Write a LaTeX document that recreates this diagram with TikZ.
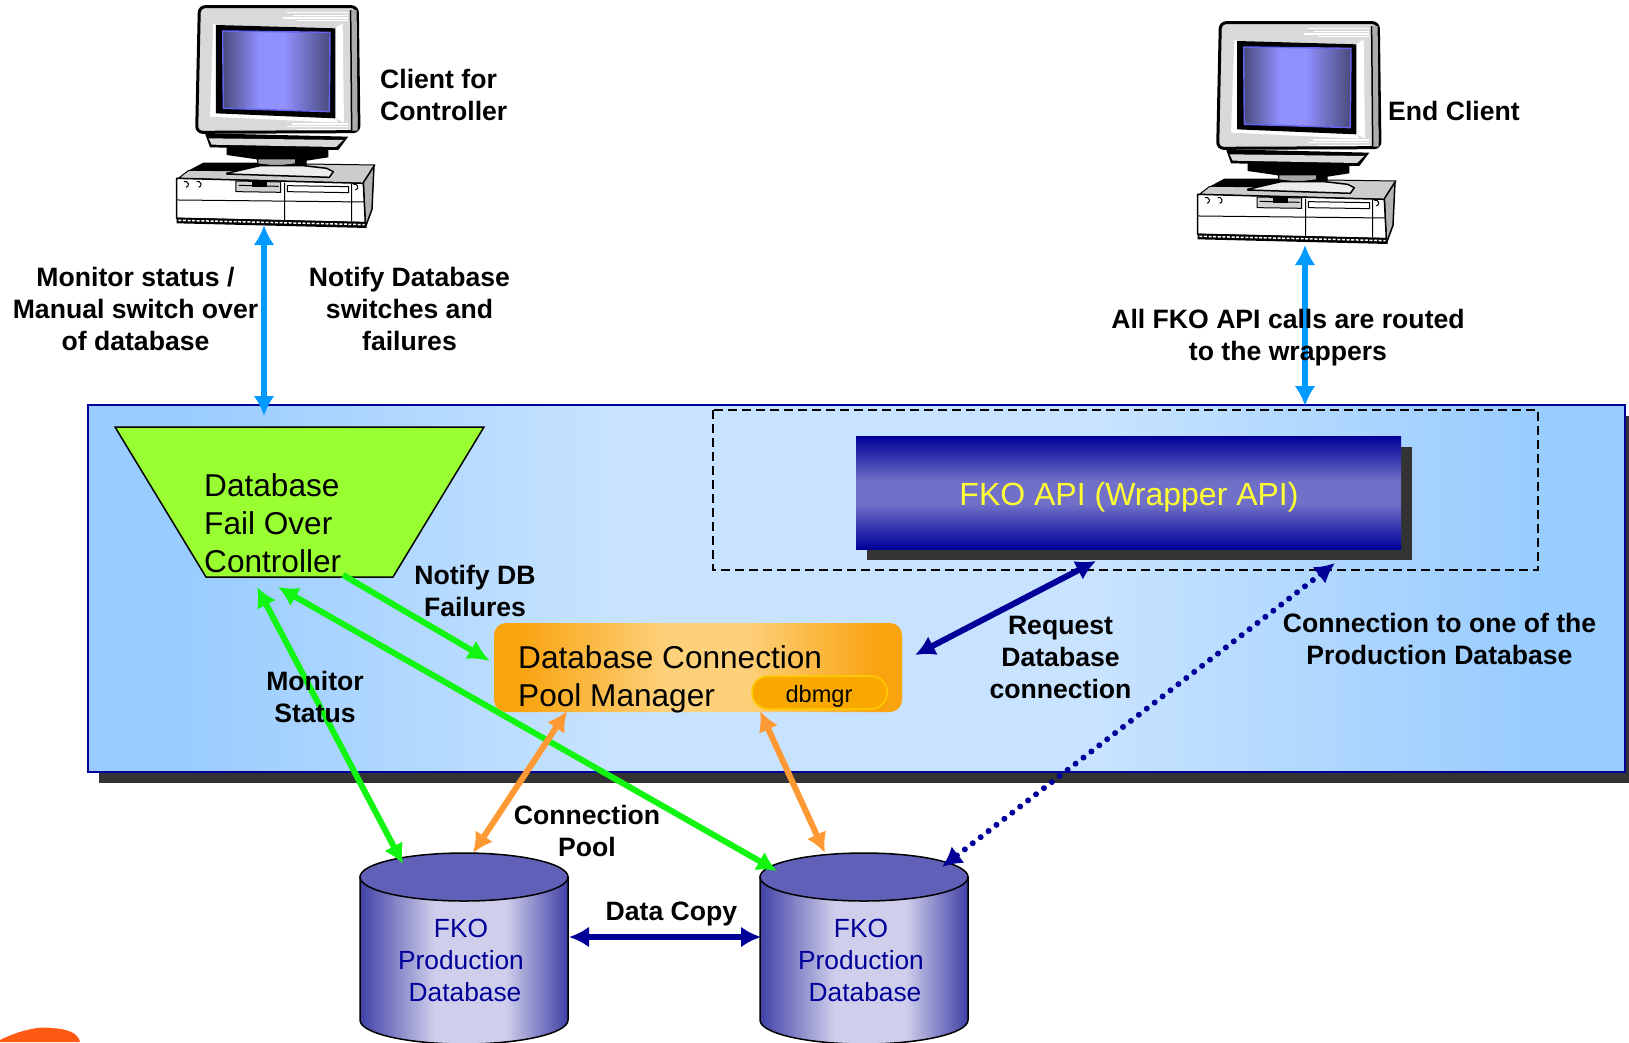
\documentclass[tikz,border=0pt]{standalone}
\usepackage{fontspec}
\setmainfont{Liberation Sans}
\usetikzlibrary{arrows.meta}
\definecolor{navy}{HTML}{000099}
\definecolor{skyarrow}{HTML}{0099FF}
\definecolor{greenarrow}{HTML}{11F511}
\definecolor{orangearrow}{HTML}{FF9933}
\definecolor{cylL}{HTML}{4040A6}
\definecolor{cylM}{HTML}{CFCFEC}
\definecolor{cylT}{HTML}{6060B8}
\definecolor{scrD}{HTML}{4A4A7C}
\definecolor{scrL}{HTML}{9090FF}
\definecolor{scrB}{HTML}{6464F0}
\definecolor{blobc}{HTML}{FF5A14}
\definecolor{panE}{HTML}{99CCFF}
\definecolor{panM}{HTML}{C7E3FF}
\definecolor{apiM}{HTML}{7070C8}
\definecolor{apiT}{HTML}{FFFF33}
\definecolor{trapc}{HTML}{99FF33}
\definecolor{poolE}{HTML}{F9A30F}
\definecolor{poolM}{HTML}{FDD07A}
\definecolor{pillB}{HTML}{FFCC00}
\definecolor{pillF}{HTML}{F9A800}
\pgfdeclarehorizontalshading{panelshade}{100bp}{color(0bp)=(panE); color(28bp)=(panE); color(42bp)=(panM); color(58bp)=(panM); color(72bp)=(panE); color(100bp)=(panE)}
\pgfdeclarehorizontalshading{poolshade}{100bp}{color(0bp)=(poolE); color(28bp)=(poolE); color(46bp)=(poolM); color(56bp)=(poolM); color(72bp)=(poolE); color(100bp)=(poolE)}
\pgfdeclarehorizontalshading{cylshade}{100bp}{color(0bp)=(cylL); color(25bp)=(cylL); color(43bp)=(cylM); color(60bp)=(cylM); color(75bp)=(cylL); color(100bp)=(cylL)}
\pgfdeclarehorizontalshading{screenshade}{100bp}{color(0bp)=(scrD); color(25bp)=(scrD); color(42bp)=(scrL); color(54bp)=(scrL); color(75bp)=(scrD); color(100bp)=(scrD)}
\pgfdeclareverticalshading{apishade}{100bp}{color(0bp)=(navy); color(25bp)=(navy); color(45bp)=(apiM); color(55bp)=(apiM); color(75bp)=(navy); color(100bp)=(navy)}
\tikzset{
  lab/.style={font=\bfseries\fontsize{26.6}{32}\selectfont,align=center,text=black,inner sep=0pt},
  cyltext/.style={font=\fontsize{26.3}{32}\selectfont,align=center,text=navy,inner sep=0pt},
  bigtext/.style={font=\fontsize{31.6}{38}\selectfont,align=left,text=black,inner sep=0pt},
  arr/.style={line width=6pt,{Latex[length=20pt,width=21pt]}-{Latex[length=20pt,width=21pt]}},
  arrone/.style={line width=6pt,-{Latex[length=22pt,width=21pt]}},
  cylside/.style={draw=black,line width=1.5pt,shading=cylshade},
  cyltop/.style={draw=black,line width=1.5pt,fill=cylT},
  computer/.pic={
    \begin{scope}[x=0.3333pt,y=-0.3333pt,line join=round]
      % base
      \draw[line width=1pt,fill=gray!40] (300,490) -- (645,495) -- (610,550) -- (55,535) -- (85,512) -- cycle;
      \fill[black] (85,512) -- (130,488) -- (300,488) -- (300,515) -- cycle;
      \draw[line width=1.5pt,fill=gray!60] (610,548) -- (642,498) -- (636,628) -- (616,682) -- cycle;
      \draw[line width=1.5pt,fill=white] (50,535) -- (610,550) -- (616,668) -- (50,655) -- cycle;
      \draw[line width=1pt] (52,600) -- (612,606) (374,548) -- (374,660) (575,552) -- (575,664);
      \draw[line width=1pt,fill=gray!35] (228,543) -- (362,546) -- (362,577) -- (228,575) -- cycle;
      \fill[black] (275,547) rectangle (322,562);
      \draw[line width=1pt] (236,556) -- (356,559);
      \draw[line width=1pt,fill=white] (382,557) -- (566,560) -- (566,578) -- (382,575) -- cycle;
      \draw[line width=1pt] (78,562) arc[start angle=80,end angle=-120,radius=9];
      \draw[line width=1pt] (116,562) arc[start angle=80,end angle=-120,radius=9];
      \draw[line width=1pt] (586,570) arc[start angle=80,end angle=-120,radius=9];
      \fill[black] (50,653) -- (616,666) -- (620,684) -- (50,670) -- cycle;
      \draw[white,line width=1.5pt,dash pattern=on 3pt off 1.6pt] (55,661) -- (614,674);
      % stand
      \fill[black] (200,440) -- (505,445) -- (505,472) -- (440,482) -- (440,500) -- (295,500) -- (290,478) -- (200,465) -- cycle;
      \fill[gray!70] (295,478) -- (405,478) -- (405,490) -- (350,497) -- (295,490) -- cycle;
      \draw[line width=1.5pt,fill=gray!15] (200,520) -- (300,497) -- (430,497) -- (500,505) -- (520,515) -- (508,532) -- (200,522) -- cycle;
      \fill[black] (135,400) -- (565,410) -- (535,450) -- (150,442) -- cycle;
      \fill[gray!30] (146,415) -- (550,420) -- (528,441) -- (155,434) -- cycle;
      % monitor
      \draw[line width=3pt,fill=gray!30,rounded corners=6pt] (118,20) -- (592,20) -- (597,395) -- (110,397) -- cycle;
      \fill[gray!65] (575,30) -- (590,30) -- (593,392) -- (575,392) -- cycle;
      \draw[black,line width=1.5pt] (572,30) -- (575,392);
      \fill[white] (160,70) -- (172,75) -- (170,340) -- (525,355) -- (535,368) -- (150,350) -- cycle;
      \fill[white] (525,85) -- (548,70) -- (552,368) -- (525,355) -- cycle;
      \fill[black] (168,75) -- (526,85) -- (526,355) -- (168,340) -- cycle;
      \draw[line width=1.4pt,draw=scrB,shading=screenshade]
        (188,93) -- (510,97) -- (508,335) -- (190,325) -- cycle;
      \foreach \xa/\yy in {380/38,400/46,370/54,410/62,395/372,380/380,410/388}
        \draw[white,line width=1.5pt] (\xa,\yy) -- (565,\yy);
    \end{scope}
  }
}
\begin{document}
\begin{tikzpicture}[x=1pt,y=-1pt]
\useasboundingbox (0,0) rectangle (1629,1042);
\fill[white] (0,0) rectangle (1629,1042);

% orange blob
\fill[blobc] (0,1042) -- (0,1040) .. controls (20,1030) and (40,1026) .. (52,1028) .. controls (66,1029) and (78,1032) .. (80,1042) -- cycle;

% panel
\fill[black!80] (99,416) rectangle (1629,783);
\shade[shading=panelshade] (88,405) rectangle (1625,772);
\draw[draw=navy,line width=2.5pt] (88,405) rectangle (1625,772);

% dashed wrapper box
\draw[black,line width=1.5pt,dash pattern=on 9pt off 5pt] (713,410) rectangle (1538,570);

% API
\fill[black!80] (867,447) rectangle (1412,560);
\shade[shading=apishade] (856,436) rectangle (1401,549);
\node[inner sep=0pt,font=\fontsize{32}{38}\selectfont,text=apiT] (api) at (1129,497) {FKO API (Wrapper API)};

% controller
\draw[black,line width=1.5pt,fill=trapc] (115,427) -- (484,427) -- (393,577) -- (206,577) -- cycle;
\node[bigtext,anchor=west] (ctrl) at (204,523) {Database\\Fail Over\\Controller};

% pool manager
\shade[rounded corners=12pt,shading=poolshade] (494,623) rectangle (902,712);
\node[bigtext,anchor=west] (pool) at (518,679) {Database Connection\\Pool Manager};
\draw[line width=1.5pt,draw=pillB,fill=pillF,rounded corners=16pt] (752,676) rectangle (887,709);
\node[inner sep=0pt,font=\fontsize{23.6}{28}\selectfont] (dbmgr) at (819,696) {dbmgr};

% cylinders
\draw[cylside] (360,877) -- (360,1020) arc[start angle=180,end angle=0,x radius=104,y radius=24] -- (568,877) -- cycle;
\draw[cyltop] (464,877) ellipse[x radius=104,y radius=24];
\node[cyltext] (db1) at (461,960) {FKO\\Production\\\hspace*{8pt}Database};
\draw[cylside] (760,877) -- (760,1020) arc[start angle=180,end angle=0,x radius=104,y radius=24] -- (968,877) -- cycle;
\draw[cyltop] (864,877) ellipse[x radius=104,y radius=24];
\node[cyltext] (db2) at (861,960) {FKO\\Production\\\hspace*{8pt}Database};

% computers
\pic (ctl) at (160,0) {computer};
\pic (end) at (1181,16) {computer};

% connector ends
\coordinate (ctlS) at (264,225);
\coordinate (panT1) at (264,416);
\coordinate (endS) at (1305,245);
\coordinate (panT2) at (1305,406);
\coordinate (apiB) at (1096,561);
\coordinate (poolR) at (915,655);
\coordinate (wrapB) at (1335,563);
\coordinate (db2R) at (942,867);
\coordinate (ctrlN) at (343,575);
\coordinate (poolL) at (490,661);
\coordinate (ctrlA) at (257,587);
\coordinate (db1G) at (403,864);
\coordinate (ctrlB) at (278,587);
\coordinate (db2G) at (777,871);
\coordinate (poolB1) at (567,711);
\coordinate (db1O) at (473,853);
\coordinate (poolB2) at (760,711);
\coordinate (db2O) at (825,853);
\coordinate (db1E) at (569,937);
\coordinate (db2E) at (761,937);

% connectors
\draw[arr,skyarrow] (ctlS) -- (panT1);
\draw[arr,skyarrow] (endS) -- (panT2);
\draw[arr,navy] (poolR) -- (apiB);
\draw[arr,navy,dash pattern=on 0pt off 10pt,line cap=round] (wrapB) -- (db2R);
\draw[arrone,greenarrow] (ctrlN) -- (poolL);
\draw[arr,greenarrow] (ctrlA) -- (db1G);
\draw[arr,greenarrow] (ctrlB) -- (db2G);
\draw[arr,orangearrow] (poolB1) -- (db1O);
\draw[arr,orangearrow] (poolB2) -- (db2O);
\draw[arr,navy] (db1E) -- (db2E);

% labels
\node[lab,align=left,anchor=west] (l1) at (380,95) {Client for\\Controller};
\node[lab,anchor=west] (l2) at (1388,111) {End Client};
\node[lab] (l3) at (135.5,309) {Monitor status /\\Manual switch over\\of database};
\node[lab] (l4) at (409.5,309) {Notify Database\\switches and\\failures};
\node[lab] (l5) at (1288,338) {All FKO API calls are routed\\to the wrappers};
\node[lab] (l6) at (475,591) {Notify DB\\Failures};
\node[lab] (l7) at (315,697) {Monitor\\Status};
\node[lab] (l8) at (1060.5,657) {Request\\Database\\connection};
\node[lab] (l9) at (1439.5,639) {Connection to one of the\\Production Database};
\node[lab] (l10) at (587,831) {Connection\\Pool};
\node[lab] (l11) at (671.5,914) {Data Copy};
\end{tikzpicture}
\end{document}
